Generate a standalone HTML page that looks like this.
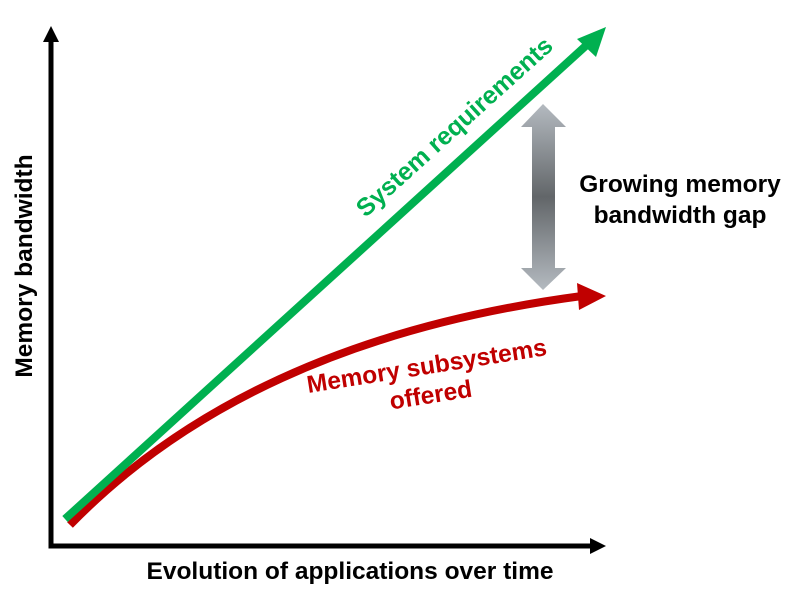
<!DOCTYPE html>
<html><head><style>
html,body{margin:0;padding:0;background:#fff;width:804px;height:600px;overflow:hidden}
text{font-family:"Liberation Sans",Arial,sans-serif;font-weight:bold}
</style></head><body>
<svg width="804" height="600" viewBox="0 0 804 600" xmlns="http://www.w3.org/2000/svg">
<defs>
<linearGradient id="g" x1="0" y1="0" x2="0" y2="1">
<stop offset="0" stop-color="#b4bac0"/><stop offset="0.5" stop-color="#626669"/><stop offset="1" stop-color="#b4bac0"/>
</linearGradient>
</defs>
<path d="M51,40 L51,546 L592,546" fill="none" stroke="#000" stroke-width="5"/>
<polygon points="51,26 43,42 59,42" fill="#000"/>
<polygon points="606,546 590,538 590,554" fill="#000"/>
<path d="M70,525 Q250,340 582,296" fill="none" stroke="#c00000" stroke-width="8"/>
<polygon points="606,296 577,283 579,310" fill="#c00000"/>
<line x1="65" y1="519" x2="590" y2="42" stroke="#00b050" stroke-width="8"/>
<polygon points="606,27 577,39 596,57" fill="#00b050"/>
<polygon points="543,104 566,127 555,127 555,268 566,268 543,290 521,268 532,268 532,127 521,127" fill="url(#g)"/>
<text x="460" y="133" fill="#00b050" font-size="25" text-anchor="middle" transform="rotate(-42 460 133)">System requirements</text>
<text x="428" y="374" fill="#c00000" font-size="24.5" text-anchor="middle" transform="rotate(-9 428 374)">Memory subsystems</text>
<text x="432" y="403" fill="#c00000" font-size="24.5" text-anchor="middle" transform="rotate(-9 432 403)">offered</text>
<text x="680" y="192" fill="#000" font-size="24.5" text-anchor="middle">Growing memory</text>
<text x="680" y="223" fill="#000" font-size="24.5" text-anchor="middle">bandwidth gap</text>
<text x="32" y="266" fill="#000" font-size="24.5" text-anchor="middle" transform="rotate(-90 32 266)">Memory bandwidth</text>
<text x="350" y="579" fill="#000" font-size="24.5" text-anchor="middle">Evolution of applications over time</text>
</svg>
</body></html>
